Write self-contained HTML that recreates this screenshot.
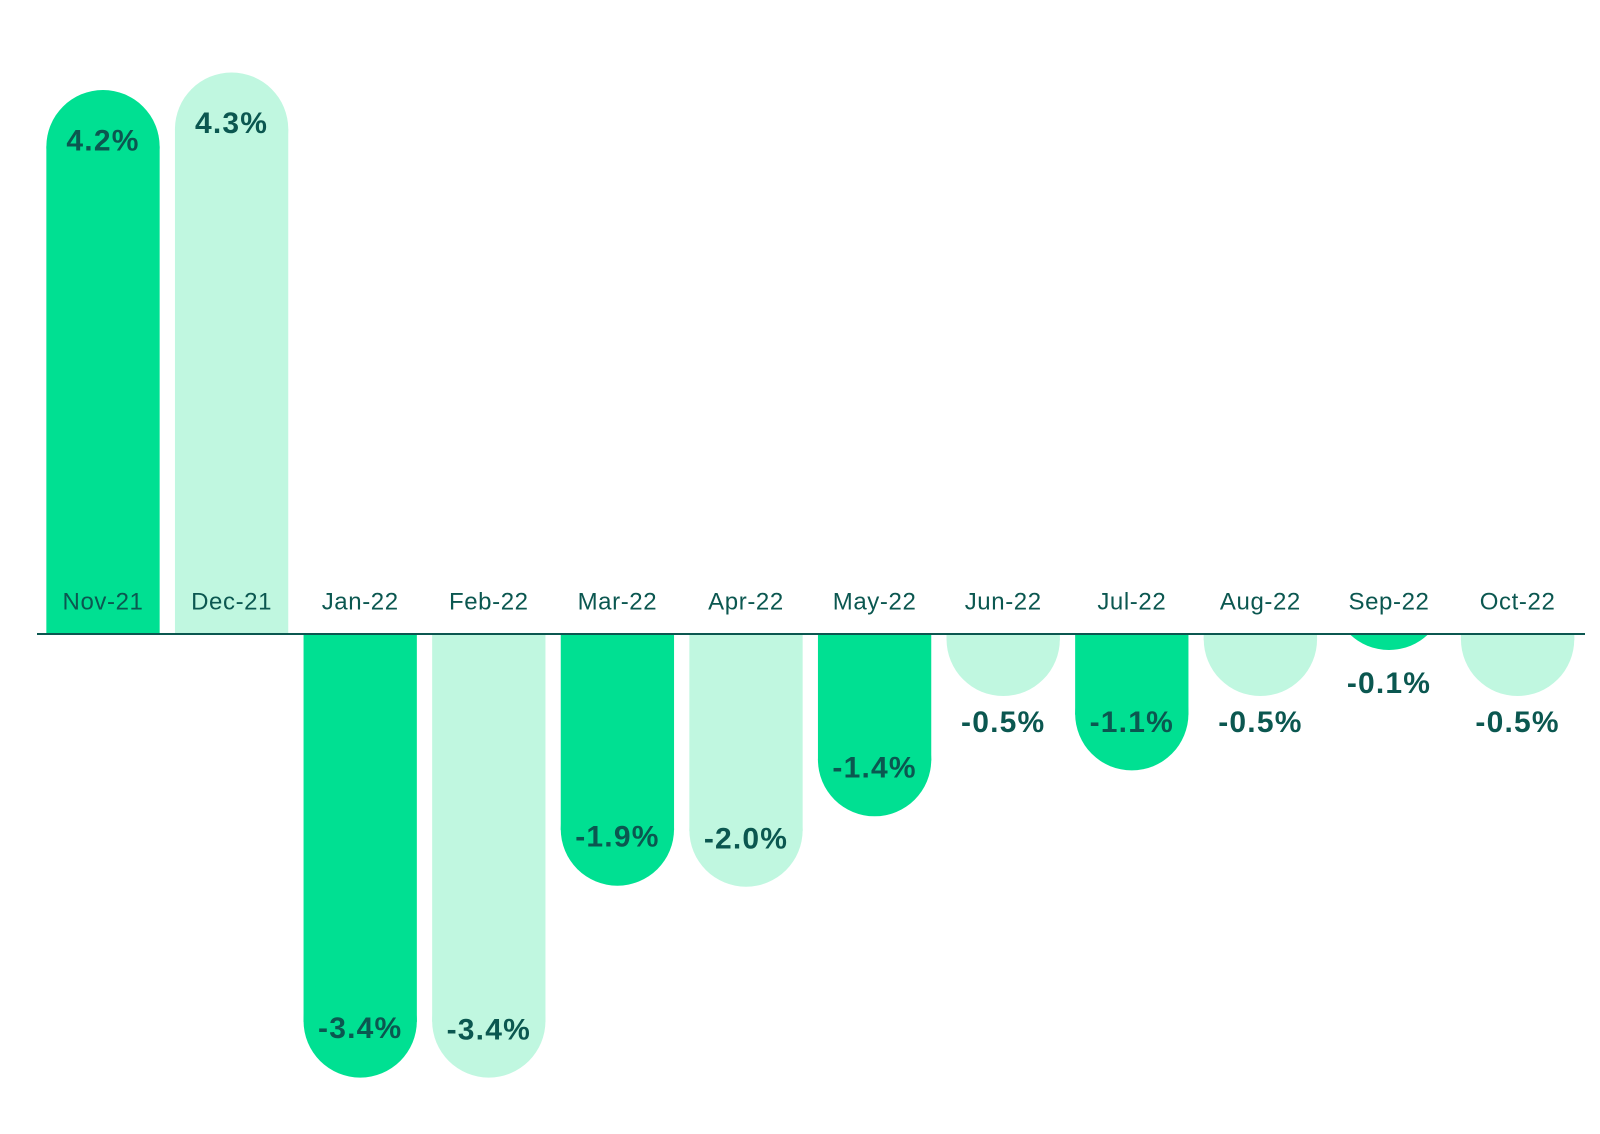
<!DOCTYPE html>
<html><head><meta charset="utf-8"><style>
html,body{margin:0;padding:0;background:#fff;}
svg{display:block;}
.m{font-family:"Liberation Sans",sans-serif;font-size:24px;fill:#0b5750;text-anchor:middle;dominant-baseline:central;letter-spacing:0.6px;}
.v{font-family:"Liberation Sans",sans-serif;font-size:30px;font-weight:bold;fill:#0b5750;text-anchor:middle;dominant-baseline:central;letter-spacing:1.2px;}
</style></head><body>
<svg width="1600" height="1134" viewBox="0 0 1600 1134" xmlns="http://www.w3.org/2000/svg">
<defs>
<clipPath id="up"><rect x="0" y="0" width="1600" height="634"/></clipPath>
<clipPath id="dn"><rect x="0" y="634" width="1600" height="500"/></clipPath>
</defs>
<g id="bars"></g>
<line x1="37" y1="634" x2="1585" y2="634" stroke="#0b5750" stroke-width="2"/>
<g id="labels"></g>
</svg>
<script>
var data=[["Nov-21",90,"4.2%",141],["Dec-21",72.5,"4.3%",123.5],["Jan-22",1077.6,"-3.4%",1028.6],["Feb-22",1077.6,"-3.4%",1030],["Mar-22",885.7,"-1.9%",837],["Apr-22",886.7,"-2.0%",839],["May-22",816.3,"-1.4%",768],["Jun-22",696,"-0.5%",722.5],["Jul-22",770.4,"-1.1%",722.5],["Aug-22",696,"-0.5%",722.5],["Sep-22",650,"-0.1%",683.7],["Oct-22",696,"-0.5%",722.5]];
var NS="http://www.w3.org/2000/svg",bars=document.getElementById("bars"),lab=document.getElementById("labels");
var w=113.3,r=w/2,B=634;
function el(t,a,p,txt){var e=document.createElementNS(NS,t);for(var k in a)e.setAttribute(k,a[k]);if(txt)e.textContent=txt;p.appendChild(e);return e;}
data.forEach(function(d,i){
 var cx=103+i*128.6,col=i%2?"#c0f7e0":"#00e092",end=d[1];
 if(end<B){var g=el("g",{"clip-path":"url(#up)"},bars);var cy=end+r;
  el("rect",{x:cx-r,y:cy,width:w,height:B-cy+1,fill:col},g);el("circle",{cx:cx,cy:cy,r:r,fill:col},g);}
 else{var g=el("g",{"clip-path":"url(#dn)"},bars);var cy=end-r;
  el("rect",{x:cx-r,y:Math.min(cy,B)-1,width:w,height:Math.max(cy-B,0)+2,fill:col},g);el("circle",{cx:cx,cy:cy,r:r,fill:col},g);}
 el("text",{x:cx,y:602,"class":"m"},lab,d[0]);
 el("text",{x:cx,y:d[3],"class":"v"},lab,d[2]);
});
</script>
</body></html>
